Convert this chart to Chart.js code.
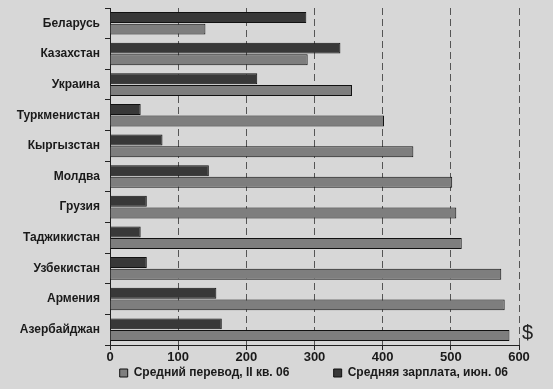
<!DOCTYPE html>
<html>
<head>
<meta charset="utf-8">
<script src="https://cdn.jsdelivr.net/npm/chart.js@4.4.0/dist/chart.umd.min.js"></script>
<style>
  html, body { margin: 0; padding: 0; background: #d7d7d7; }
  #wrap { width: 553px; height: 389px; }
</style>
</head>
<body>
<div id="wrap"><canvas id="chart"></canvas></div>
<script>
// Countries, top to bottom
const countries = ['Беларусь', 'Казахстан', 'Украина', 'Туркменистан', 'Кыргызстан', 'Молдва',
    'Грузия', 'Таджикистан', 'Узбекистан', 'Армения', 'Азербайджан'];

// Average remittance, Q2 2006 ($)
const avgTransfer = [140, 290, 355, 402, 445, 502, 508, 516, 574, 579, 586];

// Average salary, June 2006 ($)
const avgSalary = [288, 338, 216, 45, 77, 145, 54, 45, 54, 156, 164];

const xTicks = [0, 100, 200, 300, 400, 500, 600];
const unitLabel = '$';

// draws the "$" unit mark at the right end of the value axis
const unitPlugin = {
    id: 'unitMark',
    afterDraw(chart) {
        const { ctx, chartArea } = chart;
        ctx.save();
        ctx.font = '20px "Liberation Sans", Arial, sans-serif';
        ctx.fillStyle = '#222';
        ctx.textAlign = 'left';
        ctx.textBaseline = 'bottom';
        ctx.fillText(unitLabel, chartArea.right + 3, chartArea.bottom - 2);
        ctx.restore();
    }
};

const font = { family: '"Liberation Sans", Arial, sans-serif', weight: 'bold' };
const nbsp = n => '\u00A0'.repeat(n);

new Chart(document.getElementById('chart').getContext('2d'), {
    type: 'bar',
    data: {
        labels: countries,
        datasets: [
            { label: 'Средняя зарплата, июн. 06', data: avgSalary, backgroundColor: '#383838', borderColor: '#111', borderWidth: 1 },
            { label: 'Средний перевод, II кв. 06', data: avgTransfer, backgroundColor: '#7e7e7e', borderColor: '#111', borderWidth: 1 }
        ]
    },
    options: {
        indexAxis: 'y',
        responsive: true,
        maintainAspectRatio: false,
        animation: false,
        layout: { padding: { top: 8, right: 34, bottom: 0, left: 0 } },
        datasets: { bar: { categoryPercentage: 0.76, barPercentage: 0.94 } },
        scales: {
            x: {
                min: 0,
                max: 600,
                afterBuildTicks: scale => { scale.ticks = xTicks.map(v => ({ value: v })); },
                afterFit: scale => { scale.height = 21; },
                grid: { color: '#555', lineWidth: 1, tickColor: '#222', tickLength: 5 },
                border: { color: '#222', dash: [7, 4] },
                ticks: { color: '#1a1a1a', font: { ...font, size: 13 }, padding: 0 }
            },
            y: {
                afterFit: scale => {
                    scale.width = 110;
                    scale.paddingTop = 0;
                    scale.paddingBottom = 0;
                },
                grid: { display: true, drawOnChartArea: false, tickColor: '#222', tickLength: 5, offset: true },
                border: { color: '#222' },
                ticks: { color: '#1a1a1a', font: { ...font, size: 12 }, padding: 5 }
            }
        },
        plugins: {
            legend: {
                position: 'bottom',
                align: 'end',
                reverse: true,
                labels: {
                    color: '#1a1a1a',
                    font: { ...font, size: 12 },
                    boxWidth: 8,
                    boxHeight: 8,
                    padding: 1,
                    // spread the two legend entries like the original
                    generateLabels: chart => Chart.defaults.plugins.legend.labels.generateLabels(chart).map(item => {
                        item.text = item.text + nbsp(item.datasetIndex === 1 ? 13 : 3);
                        return item;
                    })
                }
            },
            tooltip: { enabled: false }
        }
    },
    plugins: [unitPlugin]
});
</script>
</body>
</html>
